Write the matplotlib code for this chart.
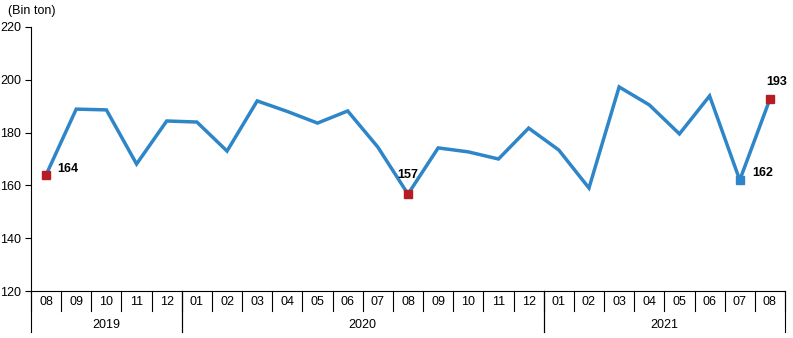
import matplotlib
matplotlib.use("Agg")
import matplotlib.pyplot as plt
from matplotlib.transforms import blended_transform_factory

plt.rcParams['font.family'] = ['Liberation Sans', 'DejaVu Sans']

months = ["08", "09", "10", "11", "12",
          "01", "02", "03", "04", "05", "06", "07", "08", "09", "10", "11", "12",
          "01", "02", "03", "04", "05", "06", "07", "08"]
years = ["2019", "2020", "2021"]
year_spans = [(0, 4), (5, 16), (17, 24)]
values = [164, 188.9, 188.6, 168.1, 184.4,
          184.0, 173.0, 192.0, 188.0, 183.6, 188.2, 174.5, 156.7, 174.2, 172.7, 170.0, 181.7,
          173.4, 159.0, 197.3, 190.5, 179.5, 193.9, 162.0, 192.7]

line_color = "#2E86C8"
red = "#B71C24"

W, H = 793, 338
fig = plt.figure(figsize=(W / 100, H / 100), dpi=100)
ax = fig.add_axes([31 / W, 1 - 291 / H, (785 - 31) / W, (291 - 27) / H])

x = list(range(len(values)))
ax.plot(x, values, color=line_color, lw=2.5, solid_joinstyle='miter', zorder=2)

# highlighted markers
for idx, col in [(0, red), (12, red), (24, red), (23, line_color)]:
    ax.plot(idx, values[idx], marker='s', ms=6, color=col, mec=col, zorder=3, clip_on=False)

lab = dict(fontsize=9, fontweight='bold', color='black')
ax.annotate("164", (0, values[0]), xytext=(8, 4), textcoords='offset points', ha='left', va='center', **lab)
ax.annotate("157", (12, values[12]), xytext=(0, 14), textcoords='offset points', ha='center', va='center', **lab)
ax.annotate("162", (23, values[23]), xytext=(9, 5), textcoords='offset points', ha='left', va='center', **lab)
ax.annotate("193", (24, values[24]), xytext=(5, 12), textcoords='offset points', ha='center', va='center', **lab)

ax.set_xlim(-0.5, len(values) - 0.5)
ax.set_ylim(120, 220)
ax.set_yticks([120, 140, 160, 180, 200, 220])
ax.tick_params(axis='y', labelsize=9, length=4, width=0.8, direction='out', pad=3)
ax.set_xticks([])
for s in ['top', 'right']:
    ax.spines[s].set_visible(False)
ax.spines['left'].set_linewidth(0.8)
ax.spines['bottom'].set_linewidth(0.8)

tr = blended_transform_factory(ax.transData, ax.transAxes)
ax_h_px = 291 - 27
short = -20 / ax_h_px
long_ = -41 / ax_h_px
# month separators
for i in range(len(values) + 1):
    b = i - 0.5
    ax.plot([b, b], [0, short], transform=tr, color='black', lw=0.8, clip_on=False)
for (s, e) in year_spans:
    for b in (s - 0.5, e + 0.5):
        ax.plot([b, b], [0, long_], transform=tr, color='black', lw=0.8, clip_on=False)
for i, m in enumerate(months):
    ax.text(i, -11 / ax_h_px, m, transform=tr, ha='center', va='center', fontsize=9)
for (s, e), yname in zip(year_spans, years):
    ax.text((s + e) / 2, -34 / ax_h_px, yname, transform=tr, ha='center', va='center', fontsize=9)

fig.text(8 / W, 1 - 11 / H, "(Bin ton)", ha='left', va='center', fontsize=9)

fig.savefig("out.png", dpi=100)
